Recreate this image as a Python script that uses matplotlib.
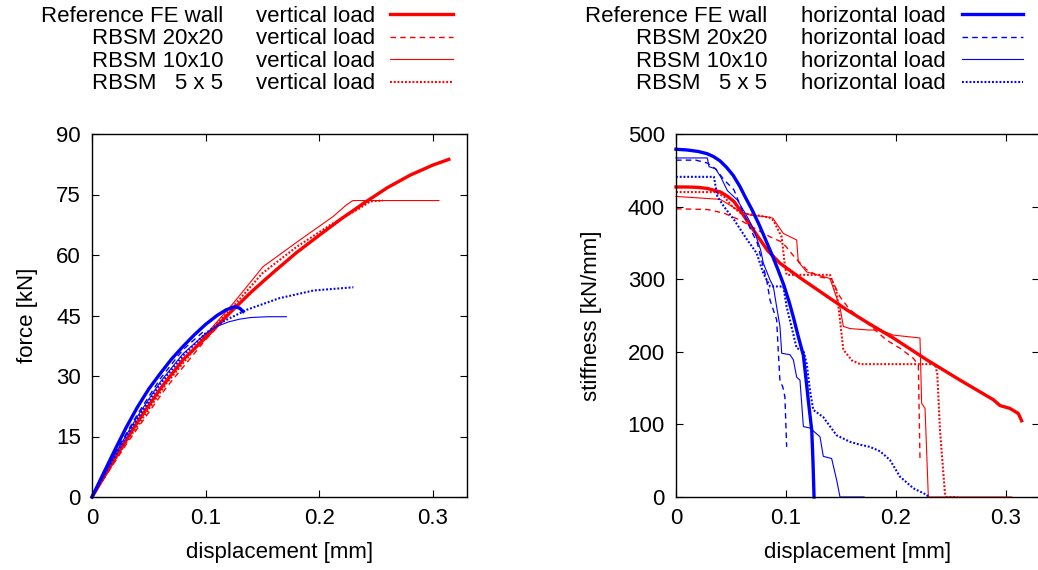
import matplotlib
matplotlib.use("Agg")
import matplotlib.pyplot as plt
from matplotlib.lines import Line2D

plt.rcParams['font.family'] = ['Liberation Sans', 'DejaVu Sans']
plt.rcParams['font.size'] = 16

RED = '#ff0000'
BLUE = '#0000ff'

# ---- force vs displacement, vertical load (red) ----
fv_ref_x = [0, 0.02, 0.04, 0.06, 0.08, 0.1, 0.12, 0.14, 0.16, 0.18, 0.2, 0.22, 0.24, 0.26, 0.28, 0.30, 0.314]
fv_ref_y = [0, 9.5, 18.6, 26.8, 34.0, 39.5, 45.3, 50.8, 55.8, 60.6, 64.9, 69.1, 73.0, 76.7, 79.8, 82.3, 83.7]
fv_20_x = [0, 0.03, 0.065, 0.1, 0.125, 0.15, 0.18, 0.21, 0.222]
fv_20_y = [0, 13, 27, 39, 46.5, 53.5, 60.5, 67, 69.5]
fv_10_x = [0, 0.03, 0.065, 0.1, 0.1242, 0.1505, 0.1828, 0.212, 0.2238, 0.2297, 0.3053]
fv_10_y = [0, 14, 29, 40.2, 48, 57.1, 63.7, 69.5, 72.4, 73.5, 73.5]
fv_5_x = [0, 0.03, 0.065, 0.1, 0.125, 0.15, 0.18, 0.21, 0.235, 0.245, 0.256]
fv_5_y = [0, 13.5, 28, 40, 47.5, 55.5, 62, 67.5, 71.5, 73.3, 73.5]

# ---- force vs displacement, horizontal load (blue) ----
fh_ref_x = [0, 0.01, 0.02, 0.03, 0.04, 0.05, 0.06, 0.07, 0.08, 0.09, 0.1, 0.11, 0.118, 0.1257, 0.13, 0.133]
fh_ref_y = [0, 5.8, 11.6, 17.2, 22.3, 26.8, 30.6, 34.2, 37.3, 40.2, 42.8, 45.0, 46.4, 47.2, 46.8, 46.0]
fh_20_x = [0, 0.02, 0.04, 0.06, 0.08, 0.1]
fh_20_y = [0, 10.8, 20.5, 29.3, 36.5, 41.5]
fh_10_x = [0, 0.02, 0.04, 0.06, 0.08, 0.1, 0.11, 0.12, 0.13, 0.14, 0.155, 0.171]
fh_10_y = [0, 10.5, 20, 28.5, 35.5, 40.5, 42.3, 43.4, 44.1, 44.5, 44.7, 44.7]
fh_5_x = [0, 0.02, 0.04, 0.06, 0.08, 0.1, 0.1125, 0.136, 0.165, 0.195, 0.23]
fh_5_y = [0, 10, 19.5, 28, 35, 40.6, 43.1, 46.4, 49.3, 51.2, 52.0]

# ---- stiffness vs displacement, vertical load (red) ----
kv_ref_x = [0, 0.01, 0.02, 0.0285, 0.0406, 0.047, 0.0527, 0.057, 0.0618, 0.068, 0.0739, 0.083, 0.0945,
            0.1127, 0.1339, 0.155, 0.1764, 0.1976, 0.2279, 0.2582, 0.2885, 0.2945, 0.3036, 0.3112, 0.3142]
kv_ref_y = [427, 427, 426.5, 425, 420, 414, 407, 398, 387, 373, 360, 340, 322,
            302, 280, 258, 238, 219, 189, 161, 134, 126, 122, 115, 105]
kv_20_x = [0, 0.0285, 0.0436, 0.0588, 0.0739, 0.086, 0.095, 0.1, 0.108, 0.1188, 0.1309, 0.1415,
           0.149, 0.158, 0.175, 0.1915, 0.2036, 0.2158, 0.2203, 0.2218]
kv_20_y = [397, 396, 391, 381, 368, 358, 352, 345, 330, 313, 303, 300,
           276, 258, 238, 216, 205, 191, 182, 53]
kv_10_x = [0, 0.04, 0.0436, 0.0588, 0.068, 0.0824, 0.088, 0.0976, 0.1097, 0.1112, 0.1188, 0.14,
           0.1445, 0.149, 0.1521, 0.1582, 0.175, 0.1855, 0.1976, 0.2218, 0.2233, 0.2264, 0.2294, 0.3053]
kv_10_y = [414, 410, 407, 393, 388, 386, 384, 363, 354, 324, 310, 301,
           281, 262, 235, 232, 230, 230, 223, 219, 129, 122, 0, 0]
kv_5_x = [0, 0.035, 0.0436, 0.0512, 0.0588, 0.07, 0.085, 0.0885, 0.0961, 0.0991, 0.1006, 0.14,
          0.1461, 0.1491, 0.1521, 0.16, 0.1673, 0.2355, 0.2375, 0.24, 0.2445, 0.246, 0.256]
kv_5_y = [420, 420, 414, 400, 391, 389, 385, 381, 358, 317, 306, 306,
          281, 244, 203, 188, 183, 183, 170, 92, 5, 0, 0]

# ---- stiffness vs displacement, horizontal load (blue) ----
kh_ref_x = [0, 0.01, 0.02, 0.028, 0.034, 0.04, 0.046, 0.052, 0.058, 0.063, 0.069, 0.075, 0.081, 0.088,
            0.093, 0.098, 0.103, 0.107, 0.111, 0.1158, 0.118, 0.1205, 0.1234, 0.1245, 0.1255]
kh_ref_y = [479, 478, 476, 473, 469, 463, 454, 443, 428, 413, 396, 377, 356, 331,
            312, 292, 268, 246, 222, 195, 165, 130, 92, 50, 0]
kh_20_x = [0, 0.018, 0.0285, 0.036, 0.0436, 0.0527, 0.0588, 0.068, 0.0739, 0.0785, 0.0824, 0.0855,
           0.0915, 0.093, 0.0945, 0.097, 0.099, 0.1006]
kh_20_y = [464, 464, 460, 452, 437, 423, 400, 368, 350, 322, 299, 271,
           244, 200, 160, 152, 138, 69]
kh_10_x = [0, 0.0285, 0.03, 0.036, 0.0406, 0.0467, 0.0558, 0.0648, 0.0709, 0.077, 0.0794, 0.0855,
           0.0885, 0.0915, 0.0945, 0.0961, 0.1036, 0.1067, 0.1097, 0.1127, 0.1158, 0.1218, 0.1309,
           0.1339, 0.1415, 0.1461, 0.1491, 0.171]
kh_10_y = [467, 467, 455, 452, 441, 422, 409, 386, 368, 340, 322, 299,
           290, 262, 235, 198, 196, 189, 165, 161, 97, 95, 83,
           56, 53, 23, 0, 0]
kh_5_x = [0, 0.0345, 0.0376, 0.0436, 0.0527, 0.0588, 0.0648, 0.0733, 0.0794, 0.0855, 0.0976, 0.1006,
          0.1097, 0.1158, 0.1188, 0.1218, 0.1248, 0.1339, 0.146, 0.1582, 0.1673, 0.1764, 0.1855,
          0.1945, 0.2036, 0.2158, 0.2279, 0.2294]
kh_5_y = [441, 441, 414, 400, 382, 368, 354, 336, 308, 290, 290, 262,
          205, 202, 184, 147, 120, 110, 85, 76, 72, 69, 63,
          51, 28, 12, 3, 0]

legend_names = ['Reference FE wall', 'RBSM 20x20', 'RBSM 10x10', 'RBSM   5 x 5']

# line style per model
styles = [
    dict(linestyle='-', linewidth=2.4),
    dict(linestyle=(0, (4, 3)), linewidth=1.0),
    dict(linestyle='-', linewidth=0.8),
    dict(linestyle=(0, (0.9, 0.9)), linewidth=1.5),
]

W, H = 1038, 570
fig = plt.figure(figsize=(W / 100, H / 100), dpi=100)

ax1 = fig.add_axes([92 / W, 73 / H, 375 / W, 363 / H])
ax2 = fig.add_axes([676 / W, 73 / H, 363 / W, 363 / H])

force_v = [(fv_ref_x, fv_ref_y), (fv_20_x, fv_20_y), (fv_10_x, fv_10_y), (fv_5_x, fv_5_y)]
force_h = [(fh_ref_x, fh_ref_y), (fh_20_x, fh_20_y), (fh_10_x, fh_10_y), (fh_5_x, fh_5_y)]
stiff_v = [(kv_ref_x, kv_ref_y), (kv_20_x, kv_20_y), (kv_10_x, kv_10_y), (kv_5_x, kv_5_y)]
stiff_h = [(kh_ref_x, kh_ref_y), (kh_20_x, kh_20_y), (kh_10_x, kh_10_y), (kh_5_x, kh_5_y)]

for (x, y), st in zip(force_v, styles):
    ax1.plot(x, y, color=RED, clip_on=False, **st)
for (x, y), st in zip(force_h, styles):
    ax1.plot(x, y, color=BLUE, clip_on=False, **st)
for (x, y), st in zip(stiff_v, styles):
    ax2.plot(x, y, color=RED, clip_on=False, **st)
for (x, y), st in zip(stiff_h, styles):
    ax2.plot(x, y, color=BLUE, clip_on=False, **st)

for ax in (ax1, ax2):
    ax.set_xlim(0, 0.33)
    ax.set_xticks([0, 0.1, 0.2, 0.3])
    ax.set_xticklabels(['0', '0.1', '0.2', '0.3'])
    ax.tick_params(direction='in', top=True, right=True, length=5, width=0.8, pad=8, labelsize=16)
    for sp in ax.spines.values():
        sp.set_linewidth(1.0)
    ax.set_xlabel('displacement [mm]')
    ax.xaxis.set_label_coords(0.5, -0.125)

ax1.set_ylim(0, 90)
ax1.set_yticks([0, 15, 30, 45, 60, 75, 90])
ax1.set_ylabel('force [kN]')
ax1.yaxis.set_label_coords(-0.144, 0.5)

ax2.set_ylim(0, 500)
ax2.set_yticks([0, 100, 200, 300, 400, 500])
ax2.set_ylabel('stiffness [kN/mm]')
ax2.yaxis.set_label_coords(-0.204, 0.5)

# key blocks above each panel
row_base = [21.7, 44.2, 66.7, 89.2]
for load, color, name_right, load_left, l0, l1 in [
        ('vertical load', RED, 223, 256, 390, 453),
        ('horizontal load', BLUE, 767, 801, 962, 1023)]:
    for name, base, st in zip(legend_names, row_base, styles):
        fy = 1 - base / H
        fig.text(name_right / W, fy, name, ha='right', va='baseline', fontsize=16)
        fig.text(load_left / W, fy, load, ha='left', va='baseline', fontsize=16)
        ly = 1 - (base - 7.7) / H
        fig.add_artist(Line2D([l0 / W, l1 / W], [ly, ly], color=color,
                              transform=fig.transFigure, **st))

fig.savefig('out.png', dpi=100)
